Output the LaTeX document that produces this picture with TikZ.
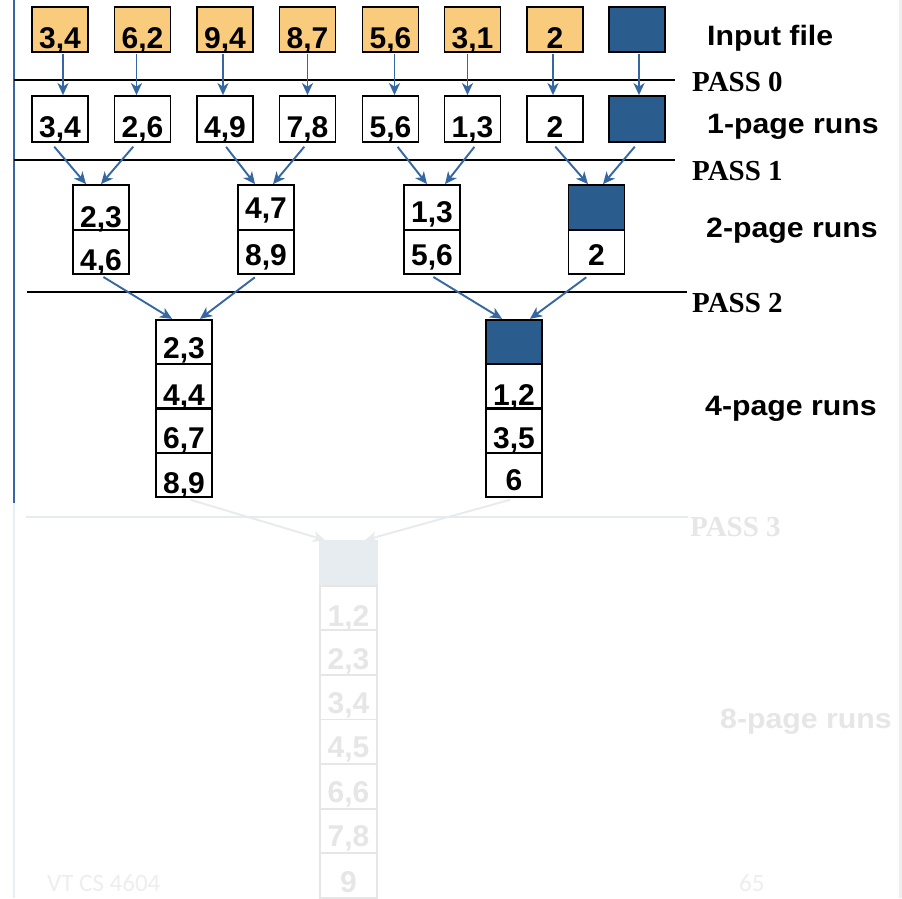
\documentclass[tikz,border=0pt]{standalone}
\usepackage{fontspec}
\setmainfont{Liberation Sans}
\newfontfamily\passfont{Liberation Serif}
\newfontfamily\lblfont{Liberation Sans}[FakeStretch=1.08]
\newfontfamily\footfont{Carlito}
\usetikzlibrary{arrows.meta}
\definecolor{orangefill}{HTML}{F9CC7D}
\definecolor{runblue}{HTML}{2A5C8D}
\definecolor{arrowblue}{HTML}{3567A2}
\definecolor{fadeline}{HTML}{E8EBEE}
\definecolor{fadetext}{HTML}{E6E6E6}
\definecolor{fadefill}{HTML}{E7ECF1}
\definecolor{fadeblue}{HTML}{E9EEF4}
\definecolor{fadefoot}{HTML}{EEEEEE}
\definecolor{rightstrip}{HTML}{EFEFEF}
\begin{document}
\begin{tikzpicture}[x=1pt,y=-1pt,
  page/.style={draw=black,line width=1.8pt,minimum width=56pt,minimum height=45pt,
    inner sep=0pt,font=\fontsize{30}{36}\selectfont\bfseries,text depth=0pt},
  bl/.style={text height=#1pt},
  inpage/.style={page,fill=orangefill},
  bluepage/.style={page,fill=runblue},
  tallpage/.style={page,minimum height=46pt},
  stackpage/.style={page,minimum height=44.5pt},
  fadepage/.style={page,draw=fadetext,text=fadetext,minimum width=57pt,minimum height=44.6pt},
  arr/.style={draw=arrowblue,line width=1.9pt,-{Stealth[length=12pt,width=11pt,inset=3.5pt]}},
  fadearr/.style={arr,draw=fadeline},
  passline/.style={draw=black,line width=2pt},
  passlbl/.style={font=\passfont\fontsize{29}{34}\selectfont\bfseries,anchor=base west,inner sep=0pt},
  runlbl/.style={font=\lblfont\fontsize{28}{34}\selectfont\bfseries,anchor=base west,inner sep=0pt},
  footlbl/.style={font=\footfont\fontsize{25}{28}\selectfont,text=fadefoot,anchor=base west,inner sep=0pt}]
\useasboundingbox (0,0) rectangle (902,898);
\fill[white] (0,0) rectangle (902,898);
\fill[rightstrip] (899,0) rectangle (902,898);

% left rule
\draw[draw=arrowblue,line width=2pt] (14,0) -- (14,503);
\draw[draw=fadeblue,line width=2pt] (14,503) -- (14,898);

% pass lines
\draw[passline] (14,80) -- (675,80);
\draw[passline] (14,160) -- (675,160);
\draw[passline] (27,292) -- (687,292);
\draw[passline,draw=fadeline] (26,517) -- (688,517);

\node[passlbl] (p0) at (692,91) {PASS 0};
\node[passlbl] (p1) at (692,180) {PASS 1};
\node[passlbl] (p2) at (692,312) {PASS 2};
\node[passlbl,text=fadetext] (p3) at (690,536) {PASS 3};

\node[runlbl] (l0) at (707,45) {Input file};
\node[runlbl] (l1) at (707,133) {1-page runs};
\node[runlbl] (l2) at (706,237) {2-page runs};
\node[runlbl] (l4) at (705,415) {4-page runs};
\node[runlbl,text=fadetext] (l8) at (720,728) {8-page runs};

\node[footlbl] (ft1) at (47,891) {VT CS 4604};
\node[footlbl] (ft2) at (739,891) {65};

% input file
\node[inpage,bl=37] (i1) at (60,29.5) {3,4};
\node[inpage,bl=37] (i2) at (142.5,29.5) {6,2};
\node[inpage,bl=37] (i3) at (225,29.5) {9,4};
\node[inpage,bl=37] (i4) at (307.5,29.5) {8,7};
\node[inpage,bl=37] (i5) at (390.5,29.5) {5,6};
\node[inpage,bl=37] (i6) at (472.5,29.5) {3,1};
\node[inpage,bl=37] (i7) at (555,29.5) {2};
\node[bluepage] (i8) at (637,29.5) {};

% 1-page runs
\node[tallpage,bl=36] (o1) at (60,119) {3,4};
\node[tallpage,bl=36] (o2) at (142.5,119) {2,6};
\node[tallpage,bl=36] (o3) at (225,119) {4,9};
\node[tallpage,bl=36] (o4) at (307.5,119) {7,8};
\node[tallpage,bl=36] (o5) at (390.5,119) {5,6};
\node[tallpage,bl=36] (o6) at (472.5,119) {1,3};
\node[tallpage,bl=36] (o7) at (555,119) {2};
\node[tallpage,fill=runblue] (o8) at (637,119) {};

% 2-page runs
\node[page,bl=39] (t1a) at (101,207.5) {2,3};
\node[page,minimum height=44pt,bl=36] (t1b) at (101,252) {4,6};
\node[page,bl=21] (t2a) at (266,207.5) {4,7};
\node[page,minimum height=44pt,bl=26] (t2b) at (266,252) {8,9};
\node[page,bl=29] (t3a) at (432,207.5) {1,3};
\node[page,minimum height=44pt,bl=26] (t3b) at (432,252) {5,6};
\node[bluepage] (t4a) at (596.5,207.5) {};
\node[page,minimum height=44pt,bl=26] (t4b) at (596.5,252) {2};

% 4-page runs
\node[stackpage,bl=32] (f1a) at (184,342) {2,3};
\node[stackpage,bl=38] (f1b) at (184,386) {4,4};
\node[stackpage,bl=34] (f1c) at (184,431) {6,7};
\node[stackpage,bl=36] (f1d) at (184,475) {8,9};
\node[stackpage,fill=runblue] (f2a) at (514,342) {};
\node[stackpage,bl=38] (f2b) at (514,386) {1,2};
\node[stackpage,bl=34] (f2c) at (514,431) {3,5};
\node[stackpage,bl=30] (f2d) at (514,475) {6};

% 8-page run (faded)
\node[fadepage,fill=fadefill,draw=fadefill] (e1) at (348.5,563.3) {};
\node[fadepage,bl=38] (e2) at (348.5,607.9) {1,2};
\node[fadepage,bl=33] (e3) at (348.5,652.5) {2,3};
\node[fadepage,bl=32] (e4) at (348.5,697.1) {3,4};
\node[fadepage,bl=32] (e5) at (348.5,741.7) {4,5};
\node[fadepage,bl=32] (e6) at (348.5,786.3) {6,6};
\node[fadepage,bl=32] (e7) at (348.5,830.9) {7,8};
\node[fadepage,bl=33] (e8) at (348.5,875.5) {9};

% pass 0 arrows
\draw[arr,shorten <=1pt] ([xshift=3pt]i1.south) -- ([xshift=3pt]o1.north);
\draw[arr,shorten <=1pt] ([xshift=-6pt]i2.south) -- ([xshift=-6pt]o2.north);
\draw[arr,shorten <=1pt] ([xshift=-2pt]i3.south) -- ([xshift=-2pt]o3.north);
\draw[arr,shorten <=1pt] (i4.south) -- (o4.north);
\draw[arr,shorten <=1pt] ([xshift=4pt]i5.south) -- ([xshift=4pt]o5.north);
\draw[arr,shorten <=1pt] ([xshift=-5pt]i6.south) -- ([xshift=-5pt]o6.north);
\draw[arr,shorten <=1pt] ([xshift=-2pt]i7.south) -- ([xshift=-2pt]o7.north);
\draw[arr,shorten <=1pt] ([xshift=2pt]i8.south) -- ([xshift=2pt]o8.north);

% pass 1 arrows
\draw[arr,shorten <=5pt] ([xshift=-9pt]o1.south) -- ([xshift=-15pt]t1a.north);
\draw[arr,shorten <=5pt] ([xshift=-6pt]o2.south) -- (t1a.north);
\draw[arr,shorten <=5pt] ([xshift=-2pt]o3.south) -- ([xshift=-11pt]t2a.north);
\draw[arr,shorten <=5pt] (o4.south) -- ([xshift=7pt]t2a.north);
\draw[arr,shorten <=5pt] ([xshift=4pt]o5.south) -- ([xshift=-5pt]t3a.north);
\draw[arr,shorten <=5pt] ([xshift=5pt]o6.south) -- ([xshift=13pt]t3a.north);
\draw[arr,shorten <=5pt] ([xshift=-3pt]o7.south) -- ([xshift=-8.5pt]t4a.north);
\draw[arr,shorten <=5pt] ([xshift=1pt]o8.south) -- ([xshift=6.5pt]t4a.north);

% pass 2 arrows
\draw[arr,shorten <=4pt] ([xshift=-1pt]t1b.south) -- ([xshift=-12pt]f1a.north);
\draw[arr,shorten <=4pt] ([xshift=-8pt]t2b.south) -- ([xshift=16pt]f1a.north);
\draw[arr,shorten <=4pt] ([xshift=-2pt]t3b.south) -- ([xshift=-12pt]f2a.north);
\draw[arr,shorten <=4pt] ([xshift=-7pt]t4b.south) -- ([xshift=16pt]f2a.north);

% pass 3 arrows (faded)
\draw[fadearr,shorten <=6pt] ([xshift=1pt]f1d.south) -- ([xshift=-23.5pt]e1.north);
\draw[fadearr,shorten <=6pt] ([xshift=2pt]f2d.south) -- ([xshift=16.5pt]e1.north);
\end{tikzpicture}
\end{document}
